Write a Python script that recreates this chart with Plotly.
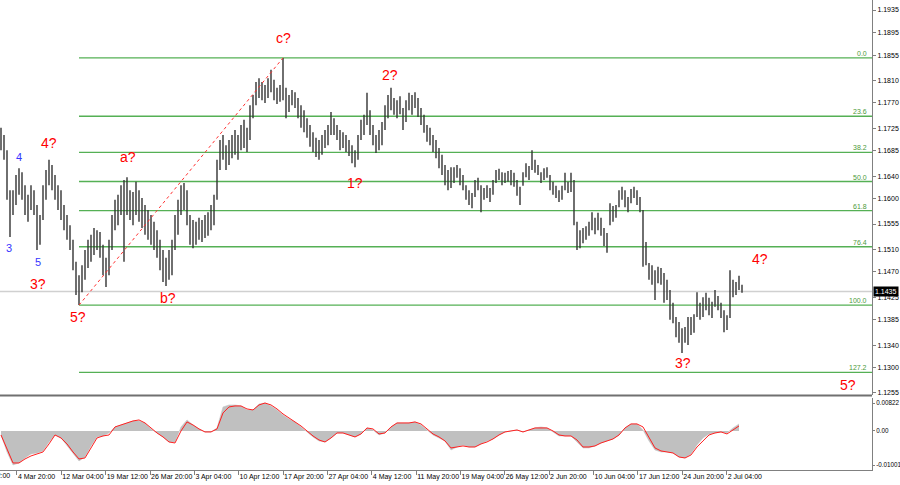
import plotly.graph_objects as go

# ---------------- data ----------------
highs = [
    1.1726, 1.1713, 1.1686, 1.1615, 1.1615, 1.1642, 1.1654, 1.1647, 1.1624, 1.1607,
    1.1624, 1.1615, 1.1589, 1.1571, 1.1624, 1.1651, 1.1669, 1.1660, 1.1642, 1.1624,
    1.1615, 1.1589, 1.1571, 1.1553, 1.1527, 1.1488, 1.1464, 1.1482, 1.1509, 1.1527,
    1.1536, 1.1548, 1.1544, 1.1541, 1.1518, 1.1495, 1.1527, 1.1571, 1.1598, 1.1607,
    1.1624, 1.1633, 1.1638, 1.1615, 1.1612, 1.1630, 1.1615, 1.1601, 1.1589, 1.1580,
    1.1571, 1.1559, 1.1544, 1.1527, 1.1509, 1.1495, 1.1509, 1.1527, 1.1571, 1.1598,
    1.1624, 1.1628, 1.1615, 1.1571, 1.1562, 1.1559, 1.1566, 1.1562, 1.1571, 1.1576,
    1.1589, 1.1607, 1.1669, 1.1704, 1.1713, 1.1695, 1.1704, 1.1713, 1.1722, 1.1713,
    1.1731, 1.1740, 1.1726, 1.1766, 1.1784, 1.1807, 1.1814, 1.1807, 1.1802, 1.1814,
    1.1829, 1.1811, 1.1797, 1.1802, 1.1850, 1.1797, 1.1784, 1.1793, 1.1789, 1.1779,
    1.1766, 1.1757, 1.1743, 1.1731, 1.1718, 1.1708, 1.1704, 1.1713, 1.1722, 1.1731,
    1.1754, 1.1743, 1.1731, 1.1722, 1.1718, 1.1713, 1.1704, 1.1695, 1.1686, 1.1713,
    1.1740, 1.1749, 1.1788, 1.1757, 1.1731, 1.1713, 1.1722, 1.1736, 1.1766, 1.1784,
    1.1797, 1.1779, 1.1775, 1.1782, 1.1761, 1.1775, 1.1788, 1.1784, 1.1789, 1.1779,
    1.1761, 1.1749, 1.1731, 1.1726, 1.1713, 1.1704, 1.1690, 1.1678, 1.1660, 1.1651,
    1.1656, 1.1656, 1.1660, 1.1654, 1.1642, 1.1624, 1.1615, 1.1610, 1.1633, 1.1637,
    1.1624, 1.1619, 1.1624, 1.1619, 1.1633, 1.1651, 1.1653, 1.1647, 1.1646, 1.1649,
    1.1651, 1.1646, 1.1633, 1.1621, 1.1647, 1.1663, 1.1658, 1.1686, 1.1669, 1.1660,
    1.1647, 1.1654, 1.1656, 1.1642, 1.1630, 1.1623, 1.1615, 1.1623, 1.1646, 1.1630,
    1.1646, 1.1633, 1.1559, 1.1544, 1.1548, 1.1551, 1.1559, 1.1576, 1.1566, 1.1575,
    1.1566, 1.1548, 1.1539, 1.1592, 1.1587, 1.1589, 1.1615, 1.1621, 1.1615, 1.1603,
    1.1617, 1.1621, 1.1615, 1.1603, 1.1580, 1.1523, 1.1486, 1.1482, 1.1473, 1.1479,
    1.1477, 1.1468, 1.1456, 1.1438, 1.1415, 1.1390, 1.1381, 1.1370, 1.1372, 1.1390,
    1.1390, 1.1395, 1.1434, 1.1415, 1.1425, 1.1433, 1.1424, 1.1417, 1.1438, 1.1427,
    1.1415, 1.1402, 1.1393, 1.1473, 1.1456, 1.1452, 1.1463, 1.1447,
]
lows = [
    1.1686, 1.1669, 1.1598, 1.1532, 1.1571, 1.1589, 1.1607, 1.1598, 1.1571, 1.1559,
    1.1580, 1.1571, 1.1509, 1.1518, 1.1562, 1.1598, 1.1624, 1.1615, 1.1598, 1.1580,
    1.1562, 1.1544, 1.1527, 1.1509, 1.1473, 1.1429, 1.1411, 1.1434, 1.1456, 1.1477,
    1.1488, 1.1500, 1.1509, 1.1495, 1.1464, 1.1443, 1.1464, 1.1509, 1.1544, 1.1553,
    1.1571, 1.1488, 1.1571, 1.1562, 1.1553, 1.1571, 1.1559, 1.1548, 1.1536, 1.1527,
    1.1518, 1.1509, 1.1495, 1.1473, 1.1452, 1.1445, 1.1456, 1.1464, 1.1509, 1.1536,
    1.1571, 1.1580, 1.1553, 1.1518, 1.1512, 1.1518, 1.1527, 1.1523, 1.1530, 1.1534,
    1.1544, 1.1553, 1.1598, 1.1651, 1.1669, 1.1651, 1.1660, 1.1672, 1.1678, 1.1669,
    1.1686, 1.1690, 1.1683, 1.1704, 1.1743, 1.1766, 1.1779, 1.1775, 1.1770, 1.1779,
    1.1789, 1.1775, 1.1768, 1.1772, 1.1775, 1.1743, 1.1754, 1.1766, 1.1761, 1.1743,
    1.1726, 1.1718, 1.1708, 1.1692, 1.1683, 1.1674, 1.1669, 1.1678, 1.1690, 1.1695,
    1.1713, 1.1713, 1.1704, 1.1686, 1.1690, 1.1683, 1.1676, 1.1663, 1.1656, 1.1669,
    1.1704, 1.1713, 1.1731, 1.1713, 1.1695, 1.1681, 1.1686, 1.1695, 1.1722, 1.1743,
    1.1757, 1.1749, 1.1743, 1.1750, 1.1722, 1.1736, 1.1757, 1.1749, 1.1761, 1.1745,
    1.1731, 1.1717, 1.1701, 1.1695, 1.1683, 1.1672, 1.1654, 1.1642, 1.1624, 1.1615,
    1.1619, 1.1628, 1.1637, 1.1624, 1.1615, 1.1598, 1.1589, 1.1583, 1.1603, 1.1615,
    1.1576, 1.1598, 1.1601, 1.1594, 1.1607, 1.1628, 1.1633, 1.1624, 1.1628, 1.1630,
    1.1624, 1.1621, 1.1605, 1.1589, 1.1623, 1.1638, 1.1633, 1.1651, 1.1646, 1.1642,
    1.1628, 1.1633, 1.1637, 1.1615, 1.1607, 1.1601, 1.1594, 1.1598, 1.1615, 1.1610,
    1.1612, 1.1553, 1.1509, 1.1512, 1.1521, 1.1527, 1.1534, 1.1544, 1.1537, 1.1544,
    1.1534, 1.1516, 1.1504, 1.1553, 1.1559, 1.1566, 1.1585, 1.1598, 1.1585, 1.1576,
    1.1592, 1.1601, 1.1589, 1.1576, 1.1479, 1.1482, 1.1456, 1.1447, 1.1420, 1.1450,
    1.1447, 1.1415, 1.1420, 1.1385, 1.1379, 1.1354, 1.1344, 1.1326, 1.1344, 1.1340,
    1.1358, 1.1362, 1.1390, 1.1385, 1.1390, 1.1402, 1.1393, 1.1388, 1.1408, 1.1402,
    1.1388, 1.1363, 1.1367, 1.1388, 1.1425, 1.1429, 1.1438, 1.1433,
]

# MACD (one value every second bar)
macd_hist = [
    -0.00118, -0.00618, -0.01000, -0.00941, -0.00794, -0.00676, -0.00647, -0.00588, -0.00324, -0.00118,
    -0.00206, -0.00441, -0.00647, -0.00882, -0.00765, -0.00441, -0.00176, -0.00147, -0.00059, 0.00118,
    0.00176, 0.00235, 0.00294, 0.00294, 0.00235, 0.00059, -0.00059, -0.00176, -0.00324, -0.00324,
    0.00118, 0.00324, 0.00176, 0.00059, -0.00029, -0.00029, 0.00088, 0.00706, 0.00765, 0.00765,
    0.00735, 0.00618, 0.00618, 0.00794, 0.00822, 0.00735, 0.00618, 0.00471, 0.00353, 0.00265,
    0.00118, -0.00029, -0.00176, -0.00294, -0.00324, -0.00206, -0.00059, -0.00059, -0.00118, -0.00176,
    -0.00088, 0.00088, 0.00029, -0.00118, -0.00059, 0.00118, 0.00235, 0.00235, 0.00235, 0.00265,
    0.00176, 0.00029, -0.00118, -0.00206, -0.00294, -0.00559, -0.00471, -0.00412, -0.00471, -0.00471,
    -0.00382, -0.00294, -0.00235, -0.00118, -0.00029, 0.0, 0.00029, -0.00029, 0.00029, 0.00088,
    0.00118, 0.00088, -0.00029, -0.00147, -0.00147, -0.00147, -0.00324, -0.00500, -0.00500, -0.00441,
    -0.00353, -0.00294, -0.00235, -0.00118, 0.00088, 0.00206, 0.00206, 0.00029, -0.00294, -0.00559,
    -0.00618, -0.00618, -0.00647, -0.00765, -0.00794, -0.00676, -0.00412, -0.00206, -0.00088, -0.00059,
    -0.00029, -0.00059, 0.00088, 0.00206,
]
macd_signal = [
    -0.00118, -0.00559, -0.00941, -0.00941, -0.00824, -0.00735, -0.00676, -0.00618, -0.00382, -0.00118,
    -0.00206, -0.00382, -0.00618, -0.00824, -0.00794, -0.00500, -0.00206, -0.00147, -0.00118, 0.00118,
    0.00176, 0.00235, 0.00294, 0.00324, 0.00235, 0.00088, -0.00059, -0.00176, -0.00324, -0.00353,
    0.0, 0.00265, 0.00176, 0.00059, -0.00029, -0.00029, 0.00059, 0.00529, 0.00706, 0.00735,
    0.00735, 0.00647, 0.00618, 0.00765, 0.00822, 0.00765, 0.00647, 0.00500, 0.00382, 0.00265,
    0.00147, 0.0, -0.00147, -0.00265, -0.00324, -0.00206, -0.00059, -0.00059, -0.00118, -0.00176,
    -0.00088, 0.00088, 0.00059, -0.00088, -0.00059, 0.00118, 0.00235, 0.00235, 0.00235, 0.00265,
    0.00206, 0.00059, -0.00088, -0.00176, -0.00294, -0.00500, -0.00471, -0.00441, -0.00471, -0.00471,
    -0.00382, -0.00324, -0.00235, -0.00118, -0.00029, 0.0, 0.00029, -0.00029, 0.00029, 0.00088,
    0.00088, 0.00088, 0.0, -0.00118, -0.00147, -0.00147, -0.00265, -0.00471, -0.00471, -0.00441,
    -0.00353, -0.00294, -0.00235, -0.00118, 0.00088, 0.00206, 0.00206, 0.00118, -0.00206, -0.00500,
    -0.00588, -0.00618, -0.00647, -0.00765, -0.00794, -0.00706, -0.00471, -0.00294, -0.00118, -0.00059,
    -0.00029, -0.00088, 0.00029, 0.00147,
]

price_ticks = [1.1935, 1.1895, 1.1855, 1.1810, 1.1770, 1.1725, 1.1685, 1.1640, 1.1600,
               1.1555, 1.1510, 1.1470, 1.1425, 1.1385, 1.1340, 1.1300, 1.1255]
macd_ticks = [0.00822, 0.0, -0.01001]
macd_tick_labels = ["0.00822", "0.00", "-0.01001"]

time_tick_pos = [5.3, 20.1, 34.9, 49.7, 64.5, 79.2, 94.0, 108.8, 123.6, 138.4,
                 153.2, 167.9, 182.7, 197.5, 212.3, 227.1, 241.9]
time_tick_labels = ["4 Mar 20:00", "12 Mar 04:00", "19 Mar 12:00", "26 Mar 20:00",
                    "3 Apr 04:00", "10 Apr 12:00", "17 Apr 20:00", "27 Apr 04:00",
                    "4 May 12:00", "11 May 20:00", "19 May 04:00", "26 May 12:00",
                    "2 Jun 20:00", "10 Jun 04:00", "17 Jun 12:00", "24 Jun 20:00",
                    "2 Jul 04:00"]
first_partial_label = "26 Feb 12:00"

fib_levels = [0.0, 23.6, 38.2, 50.0, 61.8, 76.4, 100.0, 127.2]
fib_low_bar, fib_high_bar = 26, 94
last_price = 1.1435

wave_text = ["3", "4", "5", "4?", "3?", "5?", "a?", "b?", "c?", "1?", "2?", "3?", "4?", "5?"]
wave_bar = [2.7, 6.0, 12.3, 16.0, 12.3, 25.7, 42.3, 55.7, 94.3, 118.0, 129.7, 227.3, 253.0, 282.3]
wave_price = [1.1513, 1.1674, 1.1488, 1.1699, 1.1449, 1.1390, 1.1674, 1.1424, 1.1885,
              1.1628, 1.1820, 1.1308, 1.1493, 1.1269]
wave_color = ["#3535ff", "#3535ff", "#3535ff"] + ["#ff0000"] * 11
wave_size = [11, 11, 11] + [14] * 11

# ---------------- figure ----------------
X_RANGE = [-1 / 3, 290 + 1 / 3]
FONT = "Liberation Sans"

bx, by = [], []
for i, (h, l) in enumerate(zip(highs, lows)):
    bx += [i, i, None]
    by += [l, h, None]

fig = go.Figure()
fig.add_trace(go.Scatter(x=bx, y=by, mode="lines", line=dict(color="#333333", width=1.4),
                         hoverinfo="skip", xaxis="x", yaxis="y", showlegend=False))

fib_hi = highs[fib_high_bar]
fib_lo = lows[fib_low_bar]
fig.add_trace(go.Scatter(x=[fib_low_bar, fib_high_bar], y=[fib_lo, fib_hi], mode="lines",
                         line=dict(color="#ff3030", width=1, dash="dot"),
                         hoverinfo="skip", xaxis="x", yaxis="y", showlegend=False))

mx = [2 * k for k in range(len(macd_hist))]
fig.add_trace(go.Scatter(x=mx, y=macd_hist, mode="lines", fill="tozeroy",
                         fillcolor="#c0c0c0", line=dict(color="#c0c0c0", width=0.5),
                         hoverinfo="skip", xaxis="x2", yaxis="y2", showlegend=False))
fig.add_trace(go.Scatter(x=mx, y=macd_signal, mode="lines",
                         line=dict(color="#ff2020", width=1),
                         hoverinfo="skip", xaxis="x2", yaxis="y2", showlegend=False))

shapes = []
# bid line
shapes.append(dict(type="line", xref="paper", yref="y", x0=0, x1=1, y0=last_price, y1=last_price,
                   line=dict(color="#d0d0d0", width=1.5), layer="below"))
annotations = []
for lvl in fib_levels:
    p = fib_hi - lvl / 100.0 * (fib_hi - fib_lo)
    shapes.append(dict(type="line", xref="x", yref="y", x0=fib_low_bar, x1=X_RANGE[1], y0=p, y1=p,
                       line=dict(color="#55b055", width=1.3), layer="below"))
    annotations.append(dict(xref="x", yref="y", x=289.3, y=p, text=f"{lvl:.1f}", showarrow=False,
                            xanchor="right", yanchor="bottom", yshift=-1,
                            font=dict(family=FONT, size=7, color="#4d9a3a")))

# separator between main window and MACD window
shapes.append(dict(type="line", xref="paper", yref="paper", x0=0, x1=1,
                   y0=74.5 / 470, y1=74.5 / 470, line=dict(color="#707070", width=2)))

for t, b, p, c, s in zip(wave_text, wave_bar, wave_price, wave_color, wave_size):
    annotations.append(dict(xref="x", yref="y", x=b, y=p, text=t, showarrow=False,
                            font=dict(family=FONT, size=s, color=c)))

annotations.append(dict(xref="paper", yref="y", x=1, y=last_price, text=f"{last_price:.4f}",
                        showarrow=False, xanchor="left", xshift=1, bgcolor="#000000", borderpad=1,
                        font=dict(family=FONT, size=7, color="#ffffff")))
annotations.append(dict(xref="paper", yref="paper", x=12 / 872, y=-6 / 470, text=first_partial_label,
                        showarrow=False, xanchor="right", yanchor="middle",
                        font=dict(family=FONT, size=7, color="#000000")))

fig.update_layout(
    width=900, height=485,
    margin=dict(l=0, r=28, t=0, b=15, autoexpand=False),
    paper_bgcolor="white", plot_bgcolor="white",
    font=dict(family=FONT, size=7, color="#000000"),
    showlegend=False,
    shapes=shapes, annotations=annotations,
    xaxis=dict(domain=[0, 1], range=X_RANGE, anchor="y", showticklabels=False, showgrid=False,
               zeroline=False, showline=False, ticks="", automargin=False),
    yaxis=dict(domain=[75 / 470, 1], range=[1.12514, 1.19528], side="right", anchor="x",
               tickvals=price_ticks, ticktext=[f"{v:.4f}" for v in price_ticks],
               ticks="outside", ticklen=3, tickcolor="#808080", showline=True,
               linecolor="#808080", linewidth=1, showgrid=False, zeroline=False,
               automargin=False,
               tickfont=dict(family=FONT, size=7, color="#000000")),
    xaxis2=dict(domain=[0, 1], range=X_RANGE, anchor="y2", tickvals=time_tick_pos,
                ticktext=time_tick_labels, ticks="outside", ticklen=4, tickcolor="#808080",
                ticklabelposition="outside right", tickangle=0, showline=True, linecolor="#808080",
                showgrid=False, zeroline=False, automargin=False,
                tickfont=dict(family=FONT, size=7, color="#000000")),
    yaxis2=dict(domain=[0, 72 / 470], range=[-0.01148, 0.00969], side="right", anchor="x2",
                tickvals=macd_ticks, ticktext=macd_tick_labels, ticks="outside", ticklen=2,
                ticklabelstandoff=0,
                tickcolor="#808080", showline=True, linecolor="#808080", showgrid=False,
                zeroline=False, automargin=False,
                tickfont=dict(family=FONT, size=6.3, color="#000000")),
)

fig.write_html("out.html")
